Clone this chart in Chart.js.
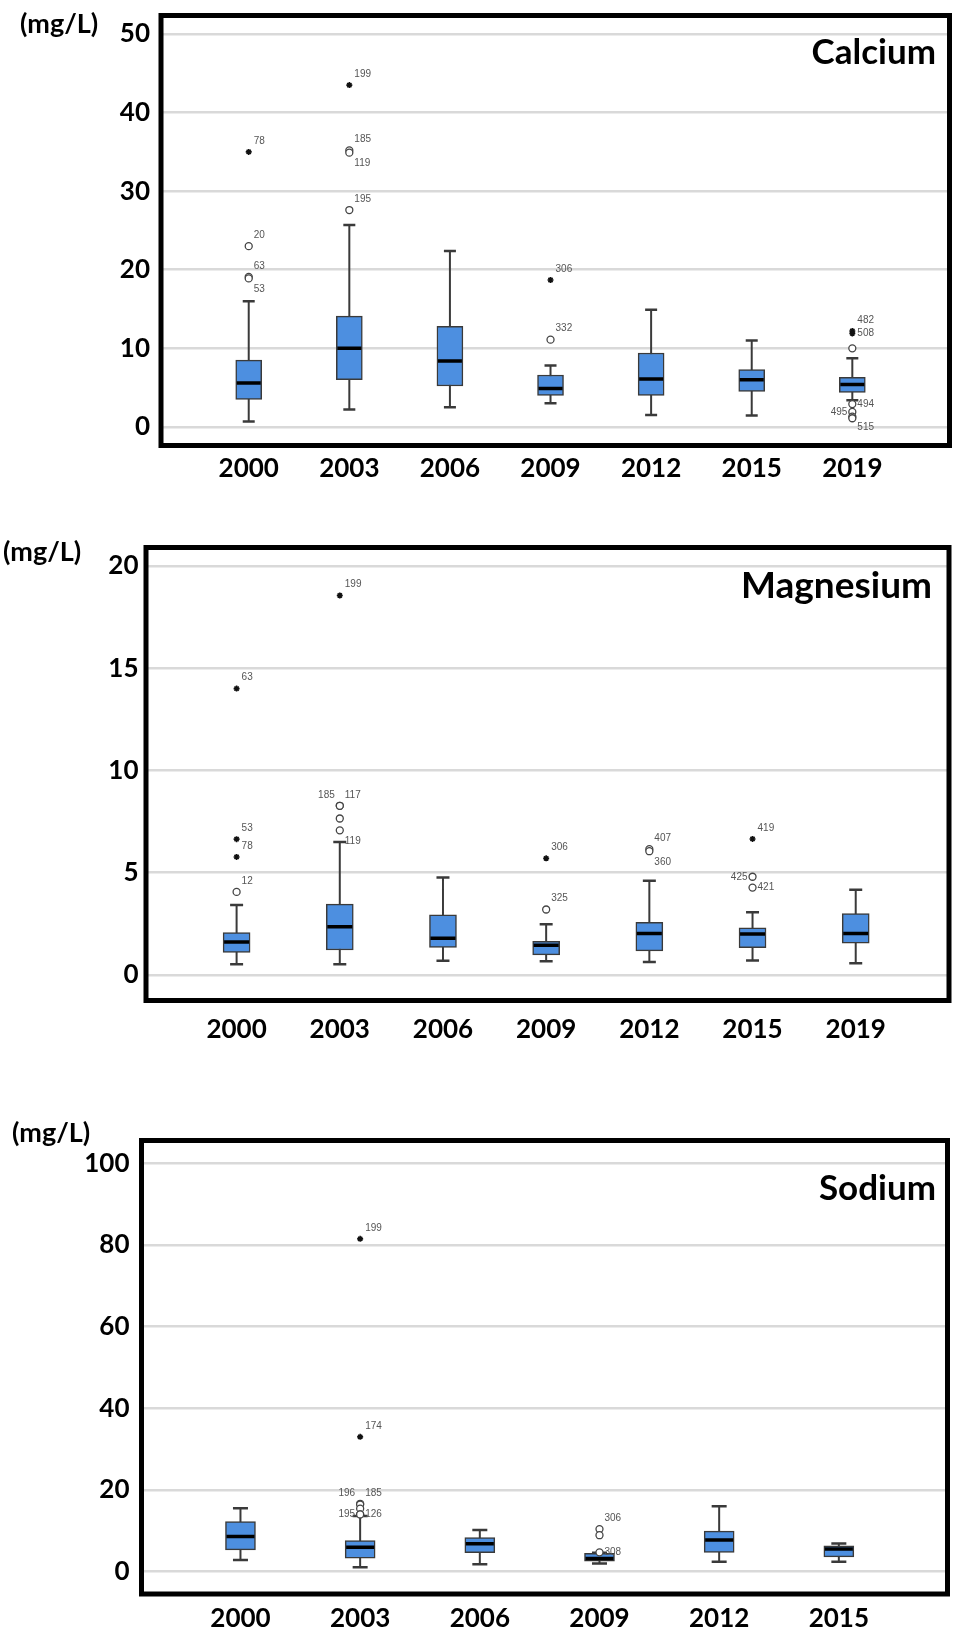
<!DOCTYPE html>
<html>
<head>
<meta charset="utf-8">
<title>Calcium, Magnesium, Sodium</title>
<script src="https://cdn.jsdelivr.net/npm/chart.js@4.4.1/dist/chart.umd.min.js"></script>
<style>
  body { margin: 0; background: #fff; }
  canvas { display: block; }
</style>
</head>
<body>
<canvas id="ca" width="965" height="505"></canvas>
<canvas id="mg" width="965" height="560"></canvas>
<canvas id="na" width="965" height="573"></canvas>
<script>
const years7 = ['2000', '2003', '2006', '2009', '2012', '2015', '2019'];
const years6 = ['2000', '2003', '2006', '2009', '2012', '2015'];

// Calcium (mg/L)
const caMin = [0.7, 2.2, 2.5, 3.0, 1.5, 1.45, 3.4];
const caQ1  = [3.5, 6.0, 5.2, 4.0, 4.0, 4.5, 4.4];
const caMed = [5.6, 10.0, 8.4, 4.9, 6.1, 6.0, 5.4];
const caQ3  = [8.5, 14.1, 12.8, 6.6, 9.4, 7.3, 6.3];
const caMax = [16.0, 25.7, 22.4, 7.8, 14.9, 11.0, 8.75];
const caTicks = [0, 10, 20, 30, 40, 50];
// [year index, value, case id, 'o' outlier / 'x' extreme, label side]
const caOut = [
  [0, 35.0, '78', 'x', 'ur'], [0, 23.0, '20', 'o', 'ur'],
  [0, 19.1, '63', 'o', 'ur'], [0, 18.9, '53', 'o', 'dr'],
  [1, 43.5, '199', 'x', 'ur'], [1, 35.2, '185', 'o', 'ur'],
  [1, 34.9, '119', 'o', 'dr'], [1, 27.6, '195', 'o', 'ur'],
  [3, 18.7, '306', 'x', 'ur'], [3, 11.1, '332', 'o', 'ur'],
  [6, 12.2, '482', 'x', 'ur'], [6, 11.9, '508', 'x', 'r'],
  [6, 10.0, '', 'o', 'r'], [6, 2.9, '494', 'o', 'r'],
  [6, 1.9, '495', 'o', 'l'], [6, 1.3, '515', 'o', 'dr'], [6, 1.1, '', 'o', 'r']
];

// Magnesium (mg/L)
const mgMin = [0.52, 0.52, 0.69, 0.67, 0.63, 0.7, 0.57];
const mgQ1  = [1.1, 1.22, 1.34, 0.98, 1.18, 1.33, 1.55];
const mgMed = [1.61, 2.35, 1.79, 1.45, 2.03, 2.0, 2.03];
const mgQ3  = [2.07, 3.46, 2.94, 1.64, 2.57, 2.3, 3.0];
const mgMax = [3.42, 6.5, 4.76, 2.48, 4.6, 3.07, 4.16];
const mgTicks = [0, 5, 10, 15, 20];
const mgOut = [
  [0, 14.0, '63', 'x', 'ur'], [0, 6.64, '53', 'x', 'ur'],
  [0, 5.77, '78', 'x', 'ur'], [0, 4.06, '12', 'o', 'ur'],
  [1, 18.55, '199', 'x', 'ur'], [1, 8.27, '185', 'o', 'ul'],
  [1, 8.27, '117', 'o', 'ur'], [1, 7.65, '', 'o', 'r'],
  [1, 7.07, '119', 'o', 'dr'],
  [3, 5.7, '306', 'x', 'ur'], [3, 3.2, '325', 'o', 'ur'],
  [4, 6.15, '407', 'o', 'ur'], [4, 6.05, '360', 'o', 'dr'],
  [5, 6.65, '419', 'x', 'ur'], [5, 4.8, '425', 'o', 'l'], [5, 4.27, '421', 'o', 'r']
];

// Sodium (mg/L)
const naMin = [2.86, 1.06, 1.8, 2.0, 2.4, 2.4];
const naQ1  = [5.3, 3.27, 4.6, 2.57, 4.7, 3.6];
const naMed = [8.6, 5.97, 6.8, 3.2, 7.7, 5.5];
const naQ3  = [12.27, 7.6, 8.3, 4.46, 9.9, 6.3];
const naMax = [15.5, 13.6, 10.2, 4.6, 16.0, 6.9];
const naTicks = [0, 20, 40, 60, 80, 100];
const naOut = [
  [1, 81.5, '199', 'x', 'ur'], [1, 33.0, '174', 'x', 'ur'],
  [1, 16.6, '185', 'o', 'ur'], [1, 16.4, '196', 'o', 'ul'],
  [1, 15.4, '', 'o', 'r'], [1, 14.0, '195', 'o', 'l'], [1, 14.0, '126', 'o', 'r'],
  [3, 10.4, '306', 'o', 'ur'], [3, 8.9, '', 'o', 'r'], [3, 4.7, '308', 'o', 'r']
];

const boxBlue = '#4d8fe0';
const dark = '#3a3a3a';
const tickFont = { family: 'Lato', weight: 'bold', size: 26 };

// frame, unit label, panel title and case numbers beside the outliers
const boxDecor = {
  id: 'boxDecor',
  afterDatasetsDraw(chart) {
    const ctx = chart.ctx;
    ctx.save();
    ctx.font = '10px "Liberation Sans", Arial, sans-serif';
    ctx.fillStyle = '#555';
    ctx.textBaseline = 'middle';
    chart.data.datasets.forEach((ds, d) => {
      if (!ds.ids) return;
      chart.getDatasetMeta(d).data.forEach((pt, i) => {
        const id = ds.ids[i], side = ds.sides[i];
        if (!id) return;
        let x = pt.x + 5, y = pt.y;
        ctx.textAlign = 'left';
        if (side[0] === 'u') y -= 11;
        if (side[0] === 'd') y += 11;
        if (side.endsWith('l')) { x = pt.x - 5; ctx.textAlign = 'right'; }
        ctx.fillText(id, x, y);
      });
    });
    ctx.restore();
  },
  afterDraw(chart, args, opts) {
    const { ctx, chartArea: a } = chart;
    ctx.save();
    ctx.lineWidth = 5;
    ctx.strokeStyle = '#000';
    ctx.strokeRect(a.left, a.top, a.right - a.left, a.bottom - a.top);
    ctx.fillStyle = '#000';
    ctx.textBaseline = 'alphabetic';
    ctx.font = 'bold 27px Lato';
    ctx.textAlign = 'left';
    ctx.fillText('(mg/L)', opts.unitX, opts.unitY);
    ctx.font = 'bold ' + opts.titleSize + 'px Lato';
    ctx.textAlign = 'right';
    ctx.fillText(opts.title, opts.titleX, opts.titleY);
    ctx.restore();
  }
};

function outlierSet(outs, kind) {
  const sel = outs.filter(o => o[3] === kind);
  return {
    type: 'scatter',
    data: sel.map(o => ({ x: o[0], y: o[1] })),
    ids: sel.map(o => o[2]),
    sides: sel.map(o => o[4]),
    pointStyle: kind === 'o' ? 'circle' : 'star',
    pointRadius: kind === 'o' ? 3.5 : 3,
    backgroundColor: '#fff',
    borderColor: kind === 'o' ? '#444' : '#111',
    borderWidth: kind === 'o' ? 1.3 : 1.6,
    order: 0
  };
}

function makeChart(id, years, mins, q1s, meds, q3s, maxs, outs, ticks, L) {
  const idx = years.map((_, i) => i);
  return new Chart(document.getElementById(id), {
    type: 'bar',
    data: {
      datasets: [
        {
          type: 'bar',
          data: idx.map(i => ({ x: i, y: [q1s[i], q3s[i]] })),
          backgroundColor: boxBlue,
          borderColor: dark,
          borderWidth: 1.5,
          borderSkipped: false,
          barThickness: L.barW,
          order: 3
        },
        {
          type: 'line',
          data: idx.flatMap(i => [{ x: i, y: mins[i] }, { x: i, y: maxs[i] }, { x: i, y: null }]),
          borderColor: dark,
          borderWidth: 2,
          pointRadius: 0,
          order: 4
        },
        {
          type: 'scatter',
          data: idx.flatMap(i => [{ x: i, y: mins[i] }, { x: i, y: maxs[i] }]),
          pointStyle: 'line',
          pointRadius: L.cap,
          borderColor: dark,
          borderWidth: 2.5,
          order: 2
        },
        {
          type: 'scatter',
          data: idx.map(i => ({ x: i, y: meds[i] })),
          pointStyle: 'line',
          pointRadius: L.barW / 2 - 1,
          borderColor: '#000',
          borderWidth: 3.5,
          order: 1
        },
        outlierSet(outs, 'o'),
        outlierSet(outs, 'x')
      ]
    },
    options: {
      responsive: false,
      animation: false,
      events: [],
      layout: { padding: { top: L.top, right: L.right, left: 0, bottom: 0 } },
      plugins: {
        legend: { display: false },
        tooltip: { enabled: false },
        boxDecor: L.decor
      },
      scales: {
        x: {
          type: 'linear',
          min: L.xMin,
          max: L.xMax,
          offset: false,
          grid: { display: false, drawTicks: false },
          border: { display: false },
          afterBuildTicks: s => { s.ticks = idx.map(i => ({ value: i })); },
          afterFit: s => { s.height = L.xHeight; s.paddingLeft = 0; s.paddingRight = 0; },
          ticks: {
            font: tickFont, color: '#000', padding: L.xPad,
            maxRotation: 0, autoSkip: false,
            callback: v => years[v]
          }
        },
        y: {
          type: 'linear',
          min: L.yMin,
          max: L.yMax,
          grid: { color: '#d9d9d9', lineWidth: 2.5, drawTicks: false },
          border: { display: false },
          afterBuildTicks: s => { s.ticks = ticks.map(v => ({ value: v })); },
          afterFit: s => { s.width = L.yWidth; s.paddingTop = 0; s.paddingBottom = 0; },
          ticks: { font: tickFont, color: '#000', padding: L.yPad }
        }
      }
    },
    plugins: [boxDecor]
  });
}

makeChart('ca', years7, caMin, caQ1, caMed, caQ3, caMax, caOut, caTicks, {
  top: 12, right: 10, yWidth: 161, xHeight: 59.5, xPad: 8, yPad: 11,
  xMin: -0.872, xMax: 6.966, yMin: -2.37, yMax: 52.36, barW: 26, cap: 6,
  decor: { unitX: 20, unitY: 33, title: 'Calcium', titleX: 936, titleY: 64, titleSize: 35 }
});

makeChart('mg', years7, mgMin, mgQ1, mgMed, mgQ3, mgMax, mgOut, mgTicks, {
  top: 42.5, right: 6.5, yWidth: 146, xHeight: 64.5, xPad: 14, yPad: 7.5,
  xMin: -0.878, xMax: 6.904, yMin: -1.25, yMax: 20.9, barW: 27, cap: 6.5,
  decor: { unitX: 3, unitY: 56, title: 'Magnesium', titleX: 932, titleY: 93, titleSize: 37 }
});

makeChart('na', years6, naMin, naQ1, naMed, naQ3, naMax, naOut, naTicks, {
  top: 75.5, right: 13, yWidth: 141.5, xHeight: 44, xPad: 9, yPad: 12,
  xMin: -0.827, xMax: 5.908, yMin: -5.5, yMax: 105.6, barW: 30, cap: 7.5,
  decor: { unitX: 12, unitY: 77, title: 'Sodium', titleX: 936, titleY: 135, titleSize: 35 }
});
</script>
</body>
</html>
